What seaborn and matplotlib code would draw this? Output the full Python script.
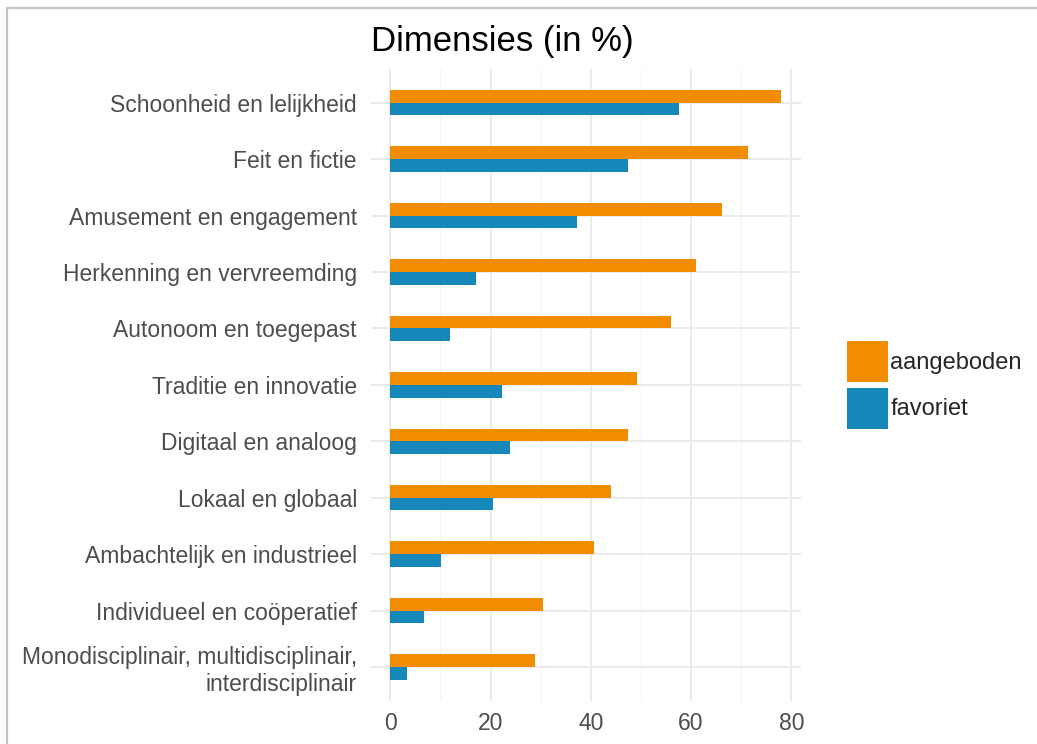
import pandas as pd
import matplotlib
matplotlib.use("Agg")
import matplotlib.pyplot as plt
import seaborn as sns
from matplotlib.lines import Line2D
from matplotlib.ticker import MultipleLocator

# data
dimensies = [
    "Schoonheid en lelijkheid",
    "Feit en fictie",
    "Amusement en engagement",
    "Herkenning en vervreemding",
    "Autonoom en toegepast",
    "Traditie en innovatie",
    "Digitaal en analoog",
    "Lokaal en globaal",
    "Ambachtelijk en industrieel",
    "Individueel en coöperatief",
    "Monodisciplinair, multidisciplinair,\ninterdisciplinair",
]
aangeboden = [78.0, 71.3, 66.2, 61.0, 56.1, 49.3, 47.4, 44.1, 40.6, 30.5, 28.9]
favoriet = [57.6, 47.5, 37.3, 17.0, 11.9, 22.2, 23.8, 20.4, 10.2, 6.8, 3.4]
reeksen = ["aangeboden", "favoriet"]
kleuren = ["#F28C00", "#1587B9"]

df = pd.DataFrame({
    "dimensie": dimensies * 2,
    "pct": aangeboden + favoriet,
    "type": ["aangeboden"] * len(dimensies) + ["favoriet"] * len(dimensies),
})

sns.set_style("white")
plt.rcParams["font.family"] = ["Liberation Sans", "DejaVu Sans"]

fig = plt.figure(figsize=(10.37, 7.44), dpi=100)
ax = fig.add_axes([0.3576, 0.058, 0.4146, 0.8495])

sns.barplot(data=df, y="dimensie", x="pct", hue="type", hue_order=reeksen,
            palette=kleuren, orient="h", width=0.45, saturation=1, gap=0,
            linewidth=0, ax=ax, zorder=3)

n = len(dimensies)
ax.set_ylim(n - 1 + 0.6, -0.6)
ax.set_xlim(-3.9, 81.9)
ax.xaxis.set_major_locator(MultipleLocator(20))
ax.xaxis.set_minor_locator(MultipleLocator(10))
ax.grid(True, which="major", color="#EBEBEB", linewidth=1.4, zorder=0)
ax.grid(True, which="minor", axis="x", color="#F4F4F4", linewidth=0.8, zorder=0)
ax.set_axisbelow(True)
for s in ax.spines.values():
    s.set_visible(False)
ax.tick_params(axis="both", which="both", length=0, labelsize=16.5,
               labelcolor="#4D4D4D")
ax.tick_params(axis="y", pad=10)
ax.tick_params(axis="x", pad=8)
ax.set_xlabel("")
ax.set_ylabel("")

ax.set_title("Dimensies (in %)", loc="left", fontsize=25, color="black", pad=13)

handles, labels = ax.get_legend_handles_labels()
ax.legend(handles, labels, loc="center left", bbox_to_anchor=(0.8168, 0.4825),
          bbox_transform=fig.transFigure, frameon=False, fontsize=17,
          handlelength=1.74, handleheight=2.3, handletextpad=0.1,
          labelspacing=0.22, borderpad=0, borderaxespad=0)

# grey frame of the screenshot (top and left)
fig.add_artist(Line2D([7 / 1037, 1], [1 - 8 / 744, 1 - 8 / 744],
                      transform=fig.transFigure, color="#C4C4C4", linewidth=1.6))
fig.add_artist(Line2D([7 / 1037, 7 / 1037], [0, 1 - 8 / 744],
                      transform=fig.transFigure, color="#C4C4C4", linewidth=1.6))

fig.savefig("out.png", dpi=100)
